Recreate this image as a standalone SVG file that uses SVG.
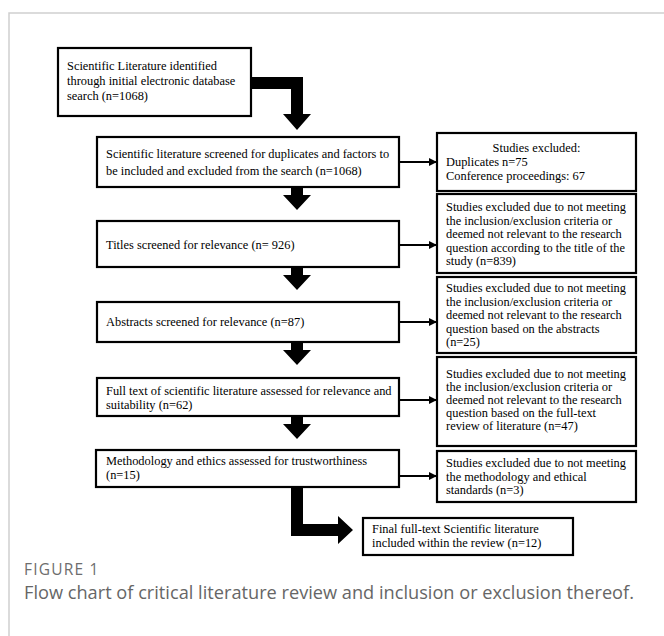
<svg xmlns="http://www.w3.org/2000/svg" width="664" height="636" viewBox="0 0 664 636">
<defs>
<style>
.frame{fill:none;stroke:#cfcfcf;stroke-width:1.5}
.box{fill:#fff;stroke:#000;stroke-width:2.2}
.t{font-family:"Liberation Serif","Times New Roman",serif;font-size:12.4px;fill:#000}
.thin{stroke:#000;stroke-width:2;fill:none}
.thick{fill:#000}
.fig{font-family:"Open Sans","Noto Sans",sans-serif;font-size:15.5px;letter-spacing:1.2px;fill:#6d6d6d}
.cap{font-family:"Open Sans","Noto Sans",sans-serif;font-size:18.2px;fill:#666}
</style>
<marker id="ah" markerWidth="8" markerHeight="8" refX="7" refY="4" orient="auto" markerUnits="userSpaceOnUse">
<path d="M0,0 L8,4 L0,8 Z" fill="#000"/>
</marker>
</defs>
<rect width="664" height="636" fill="#fff"/>
<path class="frame" d="M9,636 L9,13 L664,13"/>

<g id="n1"><rect class="box" x="58" y="48" width="193" height="68"/>
<text class="t" x="67" y="70">Scientific Literature identified</text>
<text class="t" x="67" y="85">through initial electronic database</text>
<text class="t" x="67" y="100">search (n=1068)</text></g>

<g id="n2"><rect class="box" x="97" y="137" width="302" height="50"/>
<text class="t" x="106" y="158">Scientific literature screened for duplicates and factors to</text>
<text class="t" x="106" y="175">be included and excluded from the search (n=1068)</text></g>

<g id="r1"><rect class="box" x="437" y="133" width="199" height="58"/>
<text class="t" x="536.5" y="152" text-anchor="middle">Studies excluded:</text>
<text class="t" x="446" y="166">Duplicates n=75</text>
<text class="t" x="446" y="180">Conference proceedings: 67</text></g>

<g id="n3"><rect class="box" x="97" y="221" width="302" height="46"/>
<text class="t" x="106" y="249">Titles screened for relevance (n= 926)</text></g>

<g id="r2"><rect class="box" x="437" y="194" width="199" height="79"/>
<text class="t" x="446" y="211">Studies excluded due to not meeting</text>
<text class="t" x="446" y="224.5">the inclusion/exclusion criteria or</text>
<text class="t" x="446" y="238">deemed not relevant to the research</text>
<text class="t" x="446" y="251.5">question according to the title of the</text>
<text class="t" x="446" y="265">study (n=839)</text></g>

<g id="n4"><rect class="box" x="97" y="302" width="302" height="40"/>
<text class="t" x="106" y="326">Abstracts screened for relevance (n=87)</text></g>

<g id="r3"><rect class="box" x="437" y="277" width="199" height="76"/>
<text class="t" x="446" y="292">Studies excluded due to not meeting</text>
<text class="t" x="446" y="305.5">the inclusion/exclusion criteria or</text>
<text class="t" x="446" y="319">deemed not relevant to the research</text>
<text class="t" x="446" y="332.5">question based on the abstracts</text>
<text class="t" x="446" y="346">(n=25)</text></g>

<g id="n5"><rect class="box" x="97" y="378" width="302" height="38"/>
<text class="t" x="106" y="395">Full text of scientific literature assessed for relevance and</text>
<text class="t" x="106" y="409">suitability (n=62)</text></g>

<g id="r4"><rect class="box" x="437" y="357" width="199" height="89"/>
<text class="t" x="446" y="378">Studies excluded due to not meeting</text>
<text class="t" x="446" y="391">the inclusion/exclusion criteria or</text>
<text class="t" x="446" y="404">deemed not relevant to the research</text>
<text class="t" x="446" y="417">question based on the full-text</text>
<text class="t" x="446" y="430">review of literature (n=47)</text></g>

<g id="n6"><rect class="box" x="96" y="450" width="303" height="37"/>
<text class="t" x="106" y="465">Methodology and ethics assessed for trustworthiness</text>
<text class="t" x="106" y="479">(n=15)</text></g>

<g id="r5"><rect class="box" x="437" y="451" width="199" height="51"/>
<text class="t" x="446" y="467">Studies excluded due to not meeting</text>
<text class="t" x="446" y="480.5">the methodology and ethical</text>
<text class="t" x="446" y="494">standards (n=3)</text></g>

<g id="n7"><rect class="box" x="363" y="518" width="210" height="37"/>
<text class="t" x="372" y="533">Final full-text Scientific literature</text>
<text class="t" x="372" y="547">included within the review (n=12)</text></g>

<g id="connectors">
<path class="thick" d="M251,77 L303,77 L303,114 L311,114 L297,130 L283,114 L291,114 L291,89 L251,89 Z"/>
<path class="thick" d="M291,187 L303,187 L303,195 L311,195 L297,210 L283,195 L291,195 Z"/>
<path class="thick" d="M291,267 L303,267 L303,275 L311,275 L297,290 L283,275 L291,275 Z"/>
<path class="thick" d="M291,342 L303,342 L303,350 L311,350 L297,365 L283,350 L291,350 Z"/>
<path class="thick" d="M291,416 L303,416 L303,424 L311,424 L297,439 L283,424 L291,424 Z"/>
<path class="thick" d="M291,487 L303,487 L303,524 L338,524 L338,516 L353,530 L338,544 L338,536 L291,536 Z"/>
<line class="thin" x1="399" y1="162" x2="436" y2="162" marker-end="url(#ah)"/>
<line class="thin" x1="399" y1="245" x2="436" y2="245" marker-end="url(#ah)"/>
<line class="thin" x1="399" y1="322" x2="436" y2="322" marker-end="url(#ah)"/>
<line class="thin" x1="399" y1="400" x2="436" y2="400" marker-end="url(#ah)"/>
<line class="thin" x1="399" y1="476" x2="436" y2="476" marker-end="url(#ah)"/>
</g>

<text class="fig" x="24" y="575">FIGURE 1</text>
<text class="cap" x="24" y="599">Flow chart of critical literature review and inclusion or exclusion thereof.</text>
</svg>
